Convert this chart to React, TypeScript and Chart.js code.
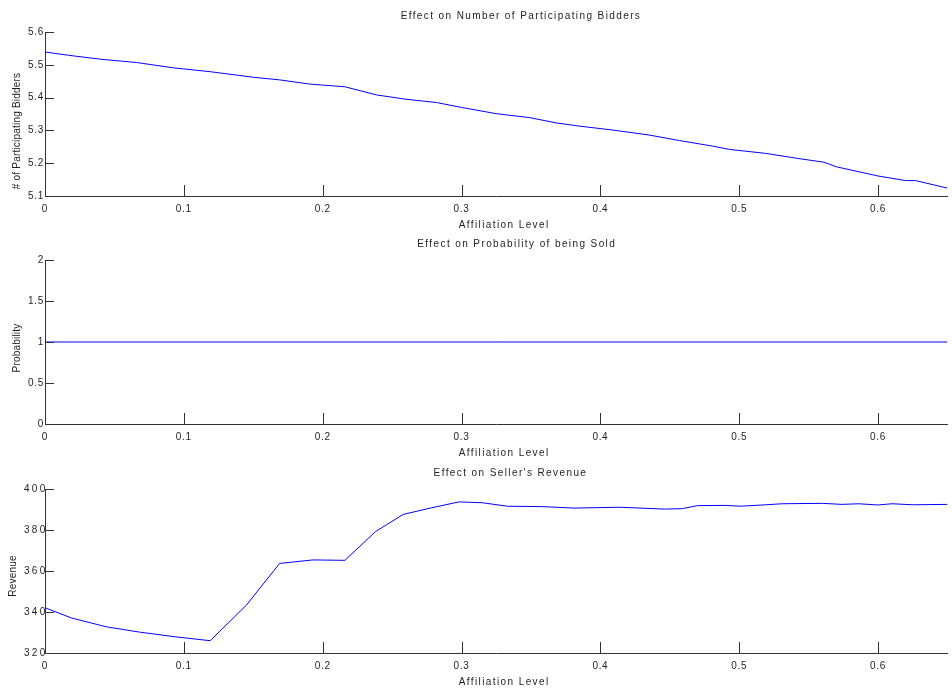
import React, { useEffect, useRef } from "react";
import { Chart, registerables } from "chart.js";

Chart.register(...registerables);

// Affiliation level samples and the simulated outcomes at each level
const bidderAffiliation = [0, 0.017, 0.04, 0.066, 0.092, 0.119, 0.15, 0.169, 0.191, 0.216, 0.239, 0.26, 0.282, 0.3, 0.325, 0.349, 0.368, 0.385, 0.409, 0.435, 0.457, 0.481, 0.493, 0.519, 0.543, 0.561, 0.57, 0.6, 0.62, 0.627, 0.65];
const participatingBidders = [5.539, 5.529, 5.517, 5.507, 5.491, 5.479, 5.462, 5.454, 5.441, 5.433, 5.408, 5.395, 5.385, 5.37, 5.351, 5.339, 5.323, 5.313, 5.301, 5.286, 5.269, 5.252, 5.242, 5.23, 5.214, 5.203, 5.189, 5.161, 5.147, 5.147, 5.124];

const soldAffiliation = [0, 0.65];
const probabilitySold = [1, 1];

const revenueAffiliation = [0, 0.019, 0.044, 0.068, 0.095, 0.119, 0.145, 0.169, 0.193, 0.216, 0.238, 0.258, 0.277, 0.298, 0.315, 0.333, 0.358, 0.381, 0.414, 0.446, 0.459, 0.47, 0.49, 0.501, 0.519, 0.531, 0.56, 0.574, 0.586, 0.6, 0.61, 0.625, 0.65];
const sellerRevenue = [342.1, 337.1, 332.8, 330.2, 327.8, 326.0, 343.3, 363.7, 365.4, 365.2, 379.2, 387.6, 390.6, 393.7, 393.3, 391.6, 391.4, 390.7, 391.1, 390.2, 390.4, 391.9, 392.0, 391.6, 392.3, 392.8, 393.0, 392.5, 392.8, 392.2, 392.8, 392.3, 392.5];

// Tick values
const affiliationTicks = [0, 0.1, 0.2, 0.3, 0.4, 0.5, 0.6];
const bidderTicks = [5.1, 5.2, 5.3, 5.4, 5.5, 5.6];
const probabilityTicks = [0, 0.5, 1, 1.5, 2];
const revenueTicks = [320, 340, 360, 380, 400];

const FONT = '"Liberation Sans", Arial, Helvetica, sans-serif';
const TEXT = "#1e1e1e";
const AXIS = "#333333";
const CANVAS_W = 952;
const CANVAS_H = 230;

type Panel = {
  top: number;
  xs: number[];
  ys: number[];
  yMin: number;
  yMax: number;
  yTicks: number[];
  title: string;
  yTitle: string;
  yTitleX: number;
  yTitleShift: number;
  yTickSpacing: number;
  tickPad: number;
};

const panels: Panel[] = [
  {
    top: 0,
    xs: bidderAffiliation,
    ys: participatingBidders,
    yMin: 5.1,
    yMax: 5.6,
    yTicks: bidderTicks,
    title: "Effect on Number of Participating Bidders",
    yTitle: "# of Participating Bidders",
    yTitleX: 17.5,
    yTitleShift: 17,
    yTickSpacing: 0.7,
    tickPad: 1,
  },
  {
    top: 228,
    xs: soldAffiliation,
    ys: probabilitySold,
    yMin: 0,
    yMax: 2,
    yTicks: probabilityTicks,
    title: "Effect on Probability of being Sold",
    yTitle: "Probability",
    yTitleX: 17,
    yTitleShift: 6,
    yTickSpacing: 0.7,
    tickPad: 1,
  },
  {
    top: 457,
    xs: revenueAffiliation,
    ys: sellerRevenue,
    yMin: 320,
    yMax: 400,
    yTicks: revenueTicks,
    title: "Effect on Seller's Revenue",
    yTitle: "Revenue",
    yTitleX: 13,
    yTitleShift: 5,
    yTickSpacing: 2.3,
    tickPad: -2.5,
  },
];

// Gives each scale's tick labels their own letter spacing
function spaceLabels(scale: any, ctx: any, spacing: number) {
  if (scale.__spaced === spacing) return;
  const draw = scale.__origDrawLabels || scale.drawLabels.bind(scale);
  scale.__origDrawLabels = draw;
  scale.drawLabels = (area: any) => {
    ctx.save();
    ctx.letterSpacing = `${spacing}px`;
    draw(area);
    ctx.restore();
  };
  scale.__spaced = spacing;
}

// Inward tick marks plus titles drawn with wide letter spacing
const matlabAxes = {
  id: "matlabAxes",
  beforeDraw(chart: any, _args: any, opts: any) {
    spaceLabels(chart.scales.x, chart.ctx, opts.xTickSpacing);
    spaceLabels(chart.scales.y, chart.ctx, opts.yTickSpacing);
  },
  afterDraw(chart: any, _args: any, opts: any) {
    const { ctx, chartArea: a, scales } = chart;
    ctx.save();
    (ctx as any).letterSpacing = "0px";
    ctx.strokeStyle = AXIS;
    ctx.lineWidth = 1;
    ctx.beginPath();
    for (const t of scales.x.ticks) {
      const px = Math.round(scales.x.getPixelForValue(t.value)) + 0.5;
      ctx.moveTo(px, a.bottom);
      ctx.lineTo(px, a.bottom - 11);
    }
    for (const t of scales.y.ticks) {
      const py = Math.round(scales.y.getPixelForValue(t.value)) + 0.5;
      ctx.moveTo(a.left, py);
      ctx.lineTo(a.left + 9, py);
    }
    ctx.stroke();

    ctx.fillStyle = TEXT;
    ctx.font = `10px ${FONT}`;
    ctx.textBaseline = "middle";
    const cx = (a.left + a.right) / 2;

    const spaced = (text: string, y: number) => {
      (ctx as any).letterSpacing = "0px";
      const w0 = ctx.measureText(text).width;
      (ctx as any).letterSpacing = "1.4px";
      ctx.textAlign = "left";
      ctx.fillText(text, cx - w0 / 2 - 4, y);
    };
    spaced(opts.title, a.top - 15.5);
    spaced(opts.xTitle, a.bottom + 29.5);

    (ctx as any).letterSpacing = "0.2px";
    ctx.translate(opts.yTitleX, (a.top + a.bottom) / 2 + opts.yTitleShift);
    ctx.rotate(-Math.PI / 2);
    ctx.textAlign = "center";
    ctx.fillText(opts.yTitle, 0, 0);
    ctx.restore();
  },
};

function PanelChart({ panel }: { panel: Panel }) {
  const ref = useRef<HTMLCanvasElement>(null);

  useEffect(() => {
    const canvas = ref.current;
    if (!canvas) return;
    const tickFont = { family: FONT, size: 10 };
    const chart = new Chart(canvas, {
      type: "line",
      data: {
        datasets: [
          {
            data: panel.xs.map((x, i) => ({ x, y: panel.ys[i] })),
            borderColor: "#0000ff",
            borderWidth: 1,
            pointRadius: 0,
            tension: 0,
            fill: false,
          },
        ],
      },
      options: {
        responsive: false,
        animation: false,
        devicePixelRatio: 1,
        events: [],
        layout: { padding: { top: 32, right: 4.5, left: 0, bottom: 0 } },
        plugins: {
          legend: { display: false },
          tooltip: { enabled: false },
          matlabAxes: {
            title: panel.title,
            xTitle: "Affiliation Level",
            yTitle: panel.yTitle,
            yTitleX: panel.yTitleX,
            yTitleShift: panel.yTitleShift,
            xTickSpacing: 0.7,
            yTickSpacing: panel.yTickSpacing,
          },
        } as any,
        scales: {
          x: {
            type: "linear",
            min: 0,
            max: 0.65,
            afterBuildTicks: (s: any) => {
              s.ticks = affiliationTicks.map((value) => ({ value }));
            },
            afterFit: (s: any) => {
              s.height = 34;
            },
            grid: { display: false, drawTicks: false },
            border: { display: true, color: AXIS, width: 1 },
            ticks: {
              padding: 7.5,
              color: TEXT,
              font: tickFont,
              maxRotation: 0,
              autoSkip: false,
              callback: (v: any) => String(v),
            },
          },
          y: {
            type: "linear",
            min: panel.yMin,
            max: panel.yMax,
            afterBuildTicks: (s: any) => {
              s.ticks = panel.yTicks.map((value) => ({ value }));
            },
            afterFit: (s: any) => {
              s.width = 45;
            },
            grid: { display: false, drawTicks: false },
            border: { display: true, color: AXIS, width: 1 },
            ticks: {
              padding: panel.tickPad,
              color: TEXT,
              font: tickFont,
              autoSkip: false,
              callback: (v: any) => String(v),
            },
          },
        },
      },
      plugins: [matlabAxes],
    } as any);
    return () => chart.destroy();
  }, [panel]);

  return (
    <canvas
      ref={ref}
      width={CANVAS_W}
      height={CANVAS_H}
      style={{ position: "absolute", left: 0, top: panel.top, width: CANVAS_W, height: CANVAS_H }}
    />
  );
}

export default function App() {
  return (
    <div
      style={{
        position: "absolute",
        left: 0,
        top: 0,
        width: 952,
        height: 692,
        background: "#ffffff",
        overflow: "hidden",
      }}
    >
      {panels.map((p, i) => (
        <PanelChart key={i} panel={p} />
      ))}
    </div>
  );
}
